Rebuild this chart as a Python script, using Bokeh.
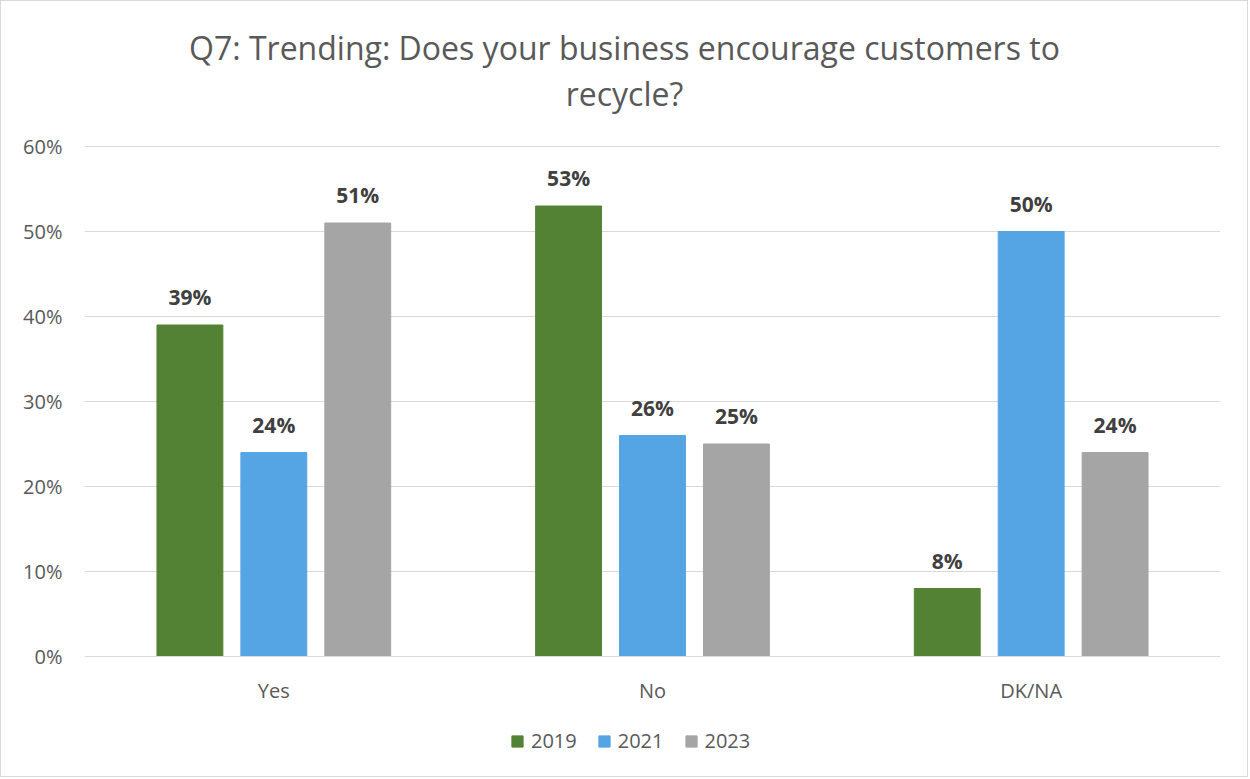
from bokeh.plotting import figure
from bokeh.models import (ColumnDataSource, FactorRange, Range1d, Legend, LegendItem,
                          Label, FixedTicker, PrintfTickFormatter)
from bokeh.transform import dodge
from bokeh.core.properties import value
from bokeh.embed import file_html
from bokeh.resources import INLINE

categories = ["Yes", "No", "DK/NA"]
years = ["2019", "2021", "2023"]
v2019 = [39, 53, 8]
v2021 = [24, 26, 50]
v2023 = [51, 25, 24]
colors = ["#548235", "#55A4E4", "#A5A5A5"]
title_lines = ["Q7: Trending: Does your business encourage customers to", "recycle?"]
y_ticks = [0, 10, 20, 30, 40, 50, 60]

FONT = "Open Sans"
TXT = "#595959"

src = ColumnDataSource(dict(
    cat=categories,
    v2019=v2019, v2021=v2021, v2023=v2023,
    l2019=[f"{v}%" for v in v2019],
    l2021=[f"{v}%" for v in v2021],
    l2023=[f"{v}%" for v in v2023],
))

# The frame spans the full height so that the title and legend (annotations) are not clipped;
# the value axis runs 0..60 with 8.5 px per percentage point, the x axis sits at y=0.
Y_TOP = 655.0 / 8.5
Y_BOT = Y_TOP - 777.0 / 8.5

p = figure(x_range=FactorRange(*categories, range_padding=0), y_range=Range1d(Y_BOT, Y_TOP),
           width=1248, height=777, output_backend="svg", toolbar_location=None,
           min_border_left=83, min_border_right=29, min_border_top=0, min_border_bottom=0)
p.styles = {"border": "1px solid #D9D9D9"}
p.outline_line_color = None
p.background_fill_color = "white"
p.border_fill_color = "white"

offsets = [-0.2216, 0.0, 0.2216]
bw = 0.174
renderers = []
for yr, off, col in zip(years, offsets, colors):
    r = p.vbar(x=dodge("cat", off, range=p.x_range), top="v" + yr, width=bw, source=src,
               fill_color=col, line_color=col)
    renderers.append(r)
    p.text(x=dodge("cat", off, range=p.x_range), y="v" + yr, text="l" + yr, source=src,
           text_align="center", text_baseline="bottom", y_offset=-14,
           text_font=value(FONT), text_font_style="bold", text_font_size="21px",
           text_color="#404040")

# axes
p.yaxis.ticker = FixedTicker(ticks=y_ticks)
p.yaxis.formatter = PrintfTickFormatter(format="%d%%")
p.yaxis.axis_line_color = None
p.yaxis.major_tick_line_color = None
p.yaxis.minor_tick_line_color = None
p.yaxis.major_tick_out = 0
p.yaxis.major_tick_in = 0
p.yaxis.major_label_standoff = 22
p.yaxis.major_label_text_font = FONT
p.yaxis.major_label_text_font_size = "20px"
p.yaxis.major_label_text_color = TXT

p.xaxis.fixed_location = 0
p.xaxis.axis_line_color = "#D9D9D9"
p.xaxis.axis_line_width = 1
p.xaxis.major_tick_line_color = None
p.xaxis.minor_tick_line_color = None
p.xaxis.major_tick_out = 0
p.xaxis.major_tick_in = 0
p.xaxis.major_label_standoff = 20
p.xaxis.major_label_text_font = FONT
p.xaxis.major_label_text_font_size = "20px"
p.xaxis.major_label_text_color = TXT

p.xgrid.grid_line_color = None
p.ygrid.grid_line_color = "#D9D9D9"
p.ygrid.ticker = FixedTicker(ticks=y_ticks)

legend = Legend(items=[LegendItem(label=yr, renderers=[r]) for yr, r in zip(years, renderers)],
                orientation="horizontal", location=(426, 24),
                border_line_color=None, background_fill_alpha=0,
                glyph_width=14, glyph_height=14, label_standoff=7, spacing=20,
                padding=0, margin=0,
                label_text_font=FONT, label_text_font_size="20px", label_text_color=TXT)
p.add_layout(legend, "center")

# title lines, placed above the 60% gridline (x in factor units 0..3)
for txt, yy in zip(title_lines, [71.65, 66.24]):
    p.add_layout(Label(x=1.426, y=yy, text=txt,
                       text_align="center", text_baseline="middle",
                       text_font=FONT, text_font_size="32px", text_color=TXT))

open("out.html", "w").write(file_html(p, INLINE))
